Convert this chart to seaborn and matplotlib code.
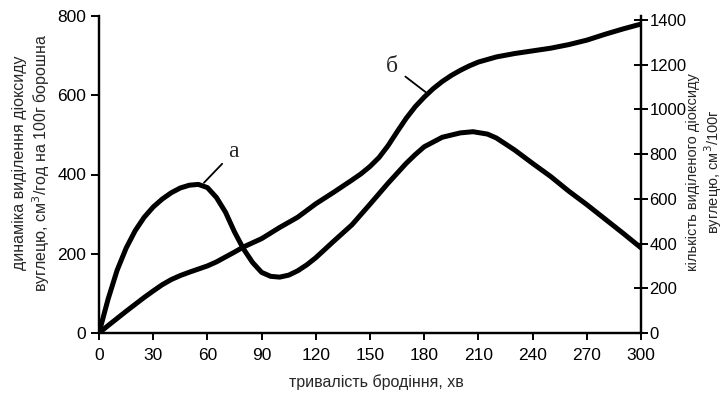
import matplotlib
matplotlib.use("Agg")
import matplotlib.pyplot as plt
import seaborn as sns
import pandas as pd

# Fermentation time, minutes
time_a = [0, 5, 10, 15, 20, 25, 30, 35, 40, 45, 50, 55, 60, 65, 70, 75, 80, 85,
          90, 95, 100, 105, 110, 115, 120, 130, 140, 150, 160, 170, 175, 180,
          190, 200, 207, 215, 220, 230, 240, 250, 260, 270, 280, 290, 300]
# Curve "а": rate of CO2 release, cm3/h per 100 g flour (left axis)
rate_a = [0, 85, 158, 214, 258, 292, 318, 338, 354, 366, 373, 375, 367, 342, 305,
          255, 212, 178, 153, 143, 141, 146, 157, 172, 190, 232, 273, 325, 378,
          428, 450, 470, 494, 505, 508, 502, 492, 462, 428, 395, 358, 324, 288,
          252, 215]

time_b = [0, 5, 10, 15, 20, 25, 30, 35, 40, 45, 50, 55, 60, 65, 70, 75, 80, 90,
          100, 110, 120, 130, 140, 145, 150, 155, 160, 165, 170, 175, 180, 185,
          190, 195, 200, 205, 210, 220, 230, 240, 250, 260, 270, 280, 290, 300]
# Curve "б": total CO2 released, cm3 per 100 g (right axis)
total_b = [0, 33, 65, 97, 128, 159, 188, 216, 239, 257, 272, 286, 300, 318, 340,
           362, 385, 422, 472, 518, 578, 630, 684, 712, 745, 785, 838, 900, 960,
           1012, 1055, 1093, 1125, 1152, 1175, 1195, 1212, 1235, 1250, 1262, 1274,
           1290, 1310, 1336, 1360, 1382]

x_ticks = list(range(0, 301, 30))
left_ticks = list(range(0, 801, 200))
right_ticks = list(range(0, 1401, 200))

df_a = pd.DataFrame({"t": time_a, "v": rate_a})
df_b = pd.DataFrame({"t": time_b, "v": total_b})

sns.set_style("white")
plt.rcParams["font.family"] = ["Liberation Sans", "DejaVu Sans"]

fig = plt.figure(figsize=(7.26, 3.96), dpi=100)
ax = fig.add_axes([99 / 726, 1 - 333 / 396, (641 - 99) / 726, (333 - 16) / 396])
ax2 = ax.twinx()

line_kw = dict(color="black", linewidth=3.6, solid_capstyle="round",
               solid_joinstyle="round")
sns.lineplot(data=df_a, x="t", y="v", ax=ax, **line_kw)
sns.lineplot(data=df_b, x="t", y="v", ax=ax2, **line_kw)

ax.set_xlim(0, 300)
ax.set_ylim(0, 800)
ax2.set_ylim(0, 1418)

ax.set_xticks(x_ticks)
ax.set_yticks(left_ticks)
ax2.set_yticks(right_ticks)

for a in (ax, ax2):
    for s in a.spines.values():
        s.set_linewidth(1.6)
        s.set_color("black")
    a.spines["top"].set_visible(False)
    a.set_xlabel("")
    a.set_ylabel("")

ax.tick_params(axis="x", direction="out", length=5, width=1.4, labelsize=12.5,
               pad=6, colors="black", bottom=True)
ax.tick_params(axis="y", direction="out", length=6, width=1.4, labelsize=12.5,
               pad=3, colors="black", left=True)
ax2.tick_params(axis="y", direction="inout", length=10, width=1.4,
                labelsize=12, pad=1, colors="black", right=True)

fig.text(376 / 726, 1 - 382 / 396, "тривалість бродіння, хв", ha="center",
         va="center", fontsize=11.5)
fig.text(32 / 726, 1 - 163 / 396,
         "динаміка виділення діоксиду\nвуглецю, см$^3$/год на 100г борошна",
         rotation=90, ha="center", va="center", fontsize=11.5,
         multialignment="center", linespacing=1.2)
fig.text(705 / 726, 1 - 172 / 396,
         "кількість виділеного діоксиду\nвуглецю, см$^3$/100г",
         rotation=90, ha="center", va="center", fontsize=10.5,
         multialignment="center", linespacing=1.1)

serif = ["Liberation Serif", "DejaVu Serif"]
ax.annotate("а", xy=(57, 374), xytext=(74.5, 457), fontsize=17, family=serif,
            ha="center", va="center",
            arrowprops=dict(arrowstyle="-", color="black", lw=1.3,
                            shrinkA=3, shrinkB=2))
ax2.annotate("б", xy=(182, 1070), xytext=(162, 1194), fontsize=17, family=serif,
             ha="center", va="center",
             arrowprops=dict(arrowstyle="-", color="black", lw=1.3,
                             shrinkA=4, shrinkB=2))

fig.savefig("out.png", dpi=100, facecolor="white")
